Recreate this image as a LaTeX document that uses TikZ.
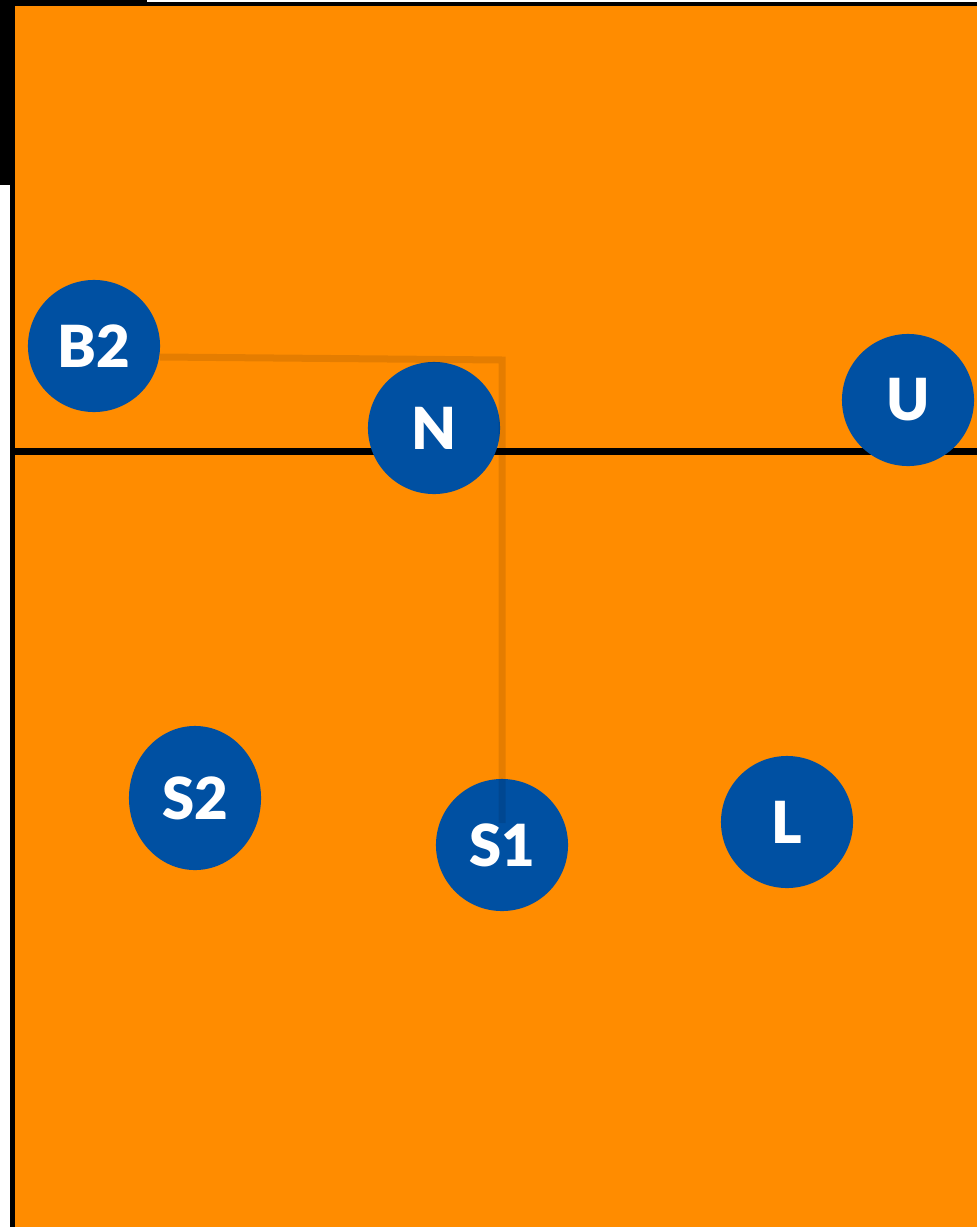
\documentclass[tikz,border=0pt]{standalone}
\usepackage{fontspec}
\setmainfont{Lato}
\newfontfamily\playerfont{Lato Black}
\usetikzlibrary{shapes.geometric}
\definecolor{courtorange}{RGB}{255,140,0}
\definecolor{playerblue}{RGB}{0,80,162}
\begin{document}
\begin{tikzpicture}[x=0.01cm,y=-0.01cm,
                        player/.style={circle,fill=playerblue,text=white,minimum size=1.32cm,inner sep=0pt,font=\playerfont\fontsize{16.5}{16.5}\selectfont},
                        run/.style={line width=0.07cm,black,opacity=0.1}
                       ]
      \useasboundingbox (0,0) rectangle (977,1227);
      % court
      \fill[courtorange] (15,6) rectangle (977,1227);
      \fill[black] (0,0) rectangle (15,185);
      \fill[black] (15,0) rectangle (147,6);
      \fill[black] (147,2) rectangle (977,6);
      \fill[black] (10,185) rectangle (15,1227);
      \fill[black] (15,448) rectangle (977,455);
      % players
      \node[player] (B2) at (94,346) {B2};
      \node[player] (N) at (434,428) {N};
      \node[player] (U) at (908,400) {U};
      \node[player,ellipse,minimum width=1.32cm,minimum height=1.44cm] (S2) at (195,798) {S2};
      \node[player] (S1) at (502,845) {S1};
      \node[player] (L) at (787,822) {L};
      % run of B2
      \coordinate (B2out) at (160,357);
      \coordinate (turn) at (502,360);
      \coordinate (S1in) at (502,823);
      \draw[run] (B2out) -- (turn) -- (S1in);
 \end{tikzpicture}
\end{document}
